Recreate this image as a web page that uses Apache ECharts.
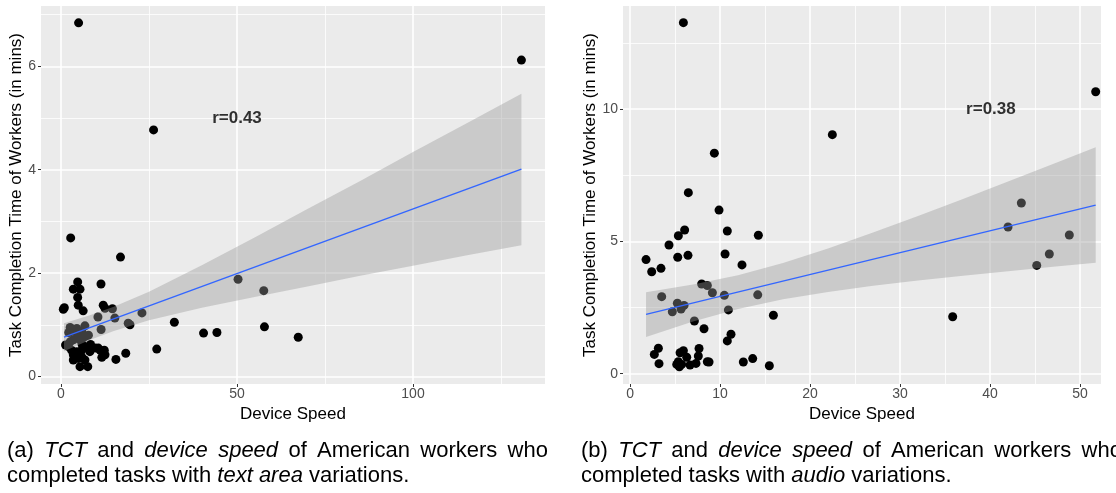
<!DOCTYPE html>
<html>
<head>
<meta charset="utf-8">
<script src="https://cdn.jsdelivr.net/npm/echarts@6/dist/echarts.min.js"></script>
<style>
html,body{margin:0;padding:0;background:#fff;}
#chart{width:1116px;height:493px;}
</style>
</head>
<body>
<div id="chart"></div>
<script>
// ---------- DATA ----------
// Panel (a): text area variations
const textSpeed = [5.0,130.8,26.3,2.75,16.9,4.74,11.36,3.5,5.4,4.74,4.9,0.95,0.66,6.3,12.0,12.5,14.6,10.5,15.3,23.0,19.1,19.6,32.2,50.3,57.6,40.5,44.3,57.8,67.4,27.2,18.4,15.6,11.4,12.3,10.6,8.2,8.2,12.5,4.5,3.8,5.9,6.8,4.9,3.5,2.6,5.4,6.8,7.8,1.3,2.1,3.0,4.5,5.9,7.8,9.7,3.5,4.9,5.9,6.8,3.5,5.4,7.6,11.6,11.1,8.4,2.6,2.2,6.0];
const textTCT   = [6.84,6.12,4.77,2.68,2.31,1.83,1.79,1.69,1.69,1.53,1.38,1.33,1.30,1.27,1.38,1.32,1.31,1.15,1.13,1.23,1.03,1.00,1.05,1.88,1.66,0.84,0.85,0.96,0.76,0.53,0.45,0.33,0.91,0.51,0.55,0.56,0.48,0.42,0.93,0.87,0.87,0.98,0.77,0.71,0.67,0.71,0.77,0.80,0.61,0.58,0.51,0.48,0.51,0.58,0.55,0.42,0.35,0.38,0.32,0.32,0.19,0.19,0.37,0.51,0.62,0.95,0.85,0.62];
const textFitX  = [0.85,130.8];
const textFitY  = [0.76,4.01];
const textBandX = [0.85,8,15,25,40,55,70,85,100,115,130.8];
const textBandLo= [0.49,0.70,0.88,1.09,1.33,1.54,1.74,1.95,2.14,2.34,2.54];
const textBandHi= [1.03,1.18,1.35,1.64,2.15,2.69,3.24,3.78,4.34,4.89,5.47];
const textXTicks = [0,50,100];
const textYTicks = [0,2,4,6];
const textXMinor = [25,75,125];
const textYMinor = [1,3,5,7];
const textR = 'r=0.43';
const textRPos = [50,5];

// Panel (b): audio variations
const audioSpeed = [5.93,22.48,9.37,6.48,9.89,6.07,5.37,10.81,14.26,4.33,1.78,5.30,6.44,10.56,2.41,3.44,12.44,3.52,7.96,8.59,9.15,10.48,14.19,5.26,6.0,5.67,4.70,10.93,15.93,7.15,8.22,11.22,10.81,3.15,2.70,3.22,5.56,5.93,6.30,7.67,7.59,6.67,7.33,5.37,5.19,5.74,5.48,8.59,8.78,12.59,13.63,15.48,51.74,35.85,43.48,42.0,48.81,46.59,45.19];
const audioTCT   = [13.26,9.03,8.33,6.84,6.18,5.43,5.21,5.39,5.23,4.86,4.31,4.40,4.47,4.52,3.85,3.98,4.11,2.91,3.39,3.33,3.06,2.96,2.98,2.66,2.58,2.44,2.34,2.41,2.21,1.99,1.70,1.49,1.24,0.96,0.73,0.38,0.79,0.87,0.62,0.95,0.67,0.33,0.39,0.45,0.35,0.35,0.26,0.45,0.44,0.44,0.57,0.30,10.65,2.15,6.45,5.54,5.24,4.52,4.09];
const audioFitX  = [1.78,51.74];
const audioFitY  = [2.24,6.37];
const audioBandX = [1.78,7,12,17,22,27,32,37,42,47,51.74];
const audioBandLo= [1.39,1.97,2.44,2.81,3.09,3.32,3.52,3.70,3.87,4.04,4.19];
const audioBandHi= [3.08,3.37,3.72,4.18,4.73,5.33,5.96,6.60,7.26,7.92,8.55];
const audioXTicks = [0,10,20,30,40,50];
const audioYTicks = [0,5,10];
const audioXMinor = [5,15,25,35,45];
const audioYMinor = [2.5,7.5,12.5];
const audioR = 'r=0.38';
const audioRPos = [40.1,10];

const xTitle = 'Device Speed';
const yTitle = 'Task Completion Time of Workers (in mins)';

// ---------- CHART ----------
const FONT = '"Liberation Sans", Arial, Helvetica, sans-serif';
const chart = echarts.init(document.getElementById('chart'), null, {renderer:'canvas'});

function pairs(xs, ys){ return xs.map((x,i)=>[x, ys[i]]); }

function gridLines(xMaj, yMaj, xMin, yMin){
  const d = [];
  xMin.forEach(v=>d.push({xAxis:v, lineStyle:{width:0.8}}));
  yMin.forEach(v=>d.push({yAxis:v, lineStyle:{width:0.8}}));
  xMaj.forEach(v=>d.push({xAxis:v, lineStyle:{width:1.6}}));
  yMaj.forEach(v=>d.push({yAxis:v, lineStyle:{width:1.6}}));
  return {
    z:1, silent:true, symbol:'none', animation:false,
    label:{show:false}, emphasis:{disabled:true},
    lineStyle:{color:'#FFFFFF', type:'solid', opacity:1},
    data:d
  };
}

function bandRenderer(xs, lo, hi){
  return function(params, api){
    if (params.dataIndex !== 0) return null;
    const pts = [];
    for (let i=0;i<xs.length;i++) pts.push(api.coord([xs[i], hi[i]]));
    for (let i=xs.length-1;i>=0;i--) pts.push(api.coord([xs[i], lo[i]]));
    return {type:'polygon', shape:{points:pts}, style:{fill:'rgba(153,153,153,0.4)'}, silent:true};
  };
}

function xAxisCfg(idx, min, max, ticks){
  return {
    type:'value', gridIndex:idx, min:min, max:max,
    splitLine:{show:false}, minorSplitLine:{show:false},
    axisLine:{show:false, onZero:false},
    axisTick:{show:true, customValues:ticks, length:3, lineStyle:{color:'#333333', width:1}},
    axisLabel:{show:true, customValues:ticks, color:'#4D4D4D', fontSize:14, fontFamily:FONT, margin:3},
    name:xTitle, nameLocation:'middle', nameGap:11,
    nameTextStyle:{color:'#000', fontSize:17, fontFamily:FONT}
  };
}
function yAxisCfg(idx, min, max, ticks, gap){
  return {
    type:'value', gridIndex:idx, min:min, max:max,
    splitLine:{show:false}, minorSplitLine:{show:false},
    axisLine:{show:false, onZero:false},
    axisTick:{show:true, customValues:ticks, length:3, lineStyle:{color:'#333333', width:1}},
    axisLabel:{show:true, customValues:ticks, color:'#4D4D4D', fontSize:14, fontFamily:FONT, margin:5},
    name:yTitle, nameLocation:'middle', nameGap:gap, nameRotate:90,
    nameTextStyle:{color:'#000', fontSize:17, fontFamily:FONT}
  };
}

function panelSeries(idx, xs, ys, fitX, fitY, bx, blo, bhi, xMaj, yMaj, xMin, yMin, rText, rPos){
  return [
    {
      type:'scatter', xAxisIndex:idx, yAxisIndex:idx, z:2,
      data:pairs(xs, ys), symbolSize:9, itemStyle:{color:'#000000', opacity:1},
      silent:true, animation:false,
      markLine:gridLines(xMaj, yMaj, xMin, yMin)
    },
    {
      type:'custom', xAxisIndex:idx, yAxisIndex:idx, z:3,
      data:bx.map((x,i)=>[x, blo[i], bhi[i]]),
      encode:{x:0, y:[1,2]},
      renderItem:bandRenderer(bx, blo, bhi),
      silent:true, animation:false
    },
    {
      type:'line', xAxisIndex:idx, yAxisIndex:idx, z:4,
      data:pairs(fitX, fitY), showSymbol:false, symbol:'none',
      lineStyle:{color:'#3366FF', width:1.4}, silent:true, animation:false
    },
    {
      type:'scatter', xAxisIndex:idx, yAxisIndex:idx, z:5,
      data:[rPos], symbolSize:1, itemStyle:{color:'rgba(0,0,0,0)'},
      label:{show:true, position:'inside', formatter:rText, color:'#000',
             fontSize:17, fontWeight:'bold', fontFamily:FONT},
      silent:true, animation:false
    }
  ];
}

const capRich = {
  n:{fontSize:22, fontFamily:FONT, fill:'#000', lineHeight:25},
  i:{fontSize:22, fontFamily:FONT, fontStyle:'italic', fill:'#000', lineHeight:25},
  s:{fontSize:22, fontFamily:FONT, width:10.3, lineHeight:25}
};

const option = {
  animation:false,
  backgroundColor:'#FFFFFF',
  grid:[
    {left:41, top:6, width:504, height:378, show:true, backgroundColor:'#EBEBEB', borderWidth:0, containLabel:false},
    {left:623, top:6, width:478, height:378, show:true, backgroundColor:'#EBEBEB', borderWidth:0, containLabel:false}
  ],
  xAxis:[ xAxisCfg(0, -5.68, 137.5, textXTicks), xAxisCfg(1, -0.78, 52.33, audioXTicks) ],
  yAxis:[ yAxisCfg(0, -0.145, 7.166, textYTicks, 13), yAxisCfg(1, -0.389, 13.89, audioYTicks, 20) ],
  series:[].concat(
    panelSeries(0, textSpeed, textTCT, textFitX, textFitY, textBandX, textBandLo, textBandHi,
                textXTicks, textYTicks, textXMinor, textYMinor, textR, textRPos),
    panelSeries(1, audioSpeed, audioTCT, audioFitX, audioFitY, audioBandX, audioBandLo, audioBandHi,
                audioXTicks, audioYTicks, audioXMinor, audioYMinor, audioR, audioRPos)
  ),
  graphic:[
    {
      type:'text', x:7, y:438, silent:true,
      style:{
        text:'{n|(a)}{s| }{i|TCT}{s| }{n|and}{s| }{i|device}{s| }{i|speed}{s| }{n|of}{s| }{n|American}{s| }{n|workers}{s| }{n|who}\n{n|completed tasks with }{i|text area}{n| variations.}',
        rich:capRich, fontSize:22, fontFamily:FONT, fill:'#000', verticalAlign:'top', align:'left'
      }
    },
    {
      type:'text', x:581, y:438, silent:true,
      style:{
        text:'{n|(b)}{s| }{i|TCT}{s| }{n|and}{s| }{i|device}{s| }{i|speed}{s| }{n|of}{s| }{n|American}{s| }{n|workers}{s| }{n|who}\n{n|completed tasks with }{i|audio}{n| variations.}',
        rich:capRich, fontSize:22, fontFamily:FONT, fill:'#000', verticalAlign:'top', align:'left'
      }
    }
  ]
};
chart.setOption(option);
</script>
</body>
</html>
